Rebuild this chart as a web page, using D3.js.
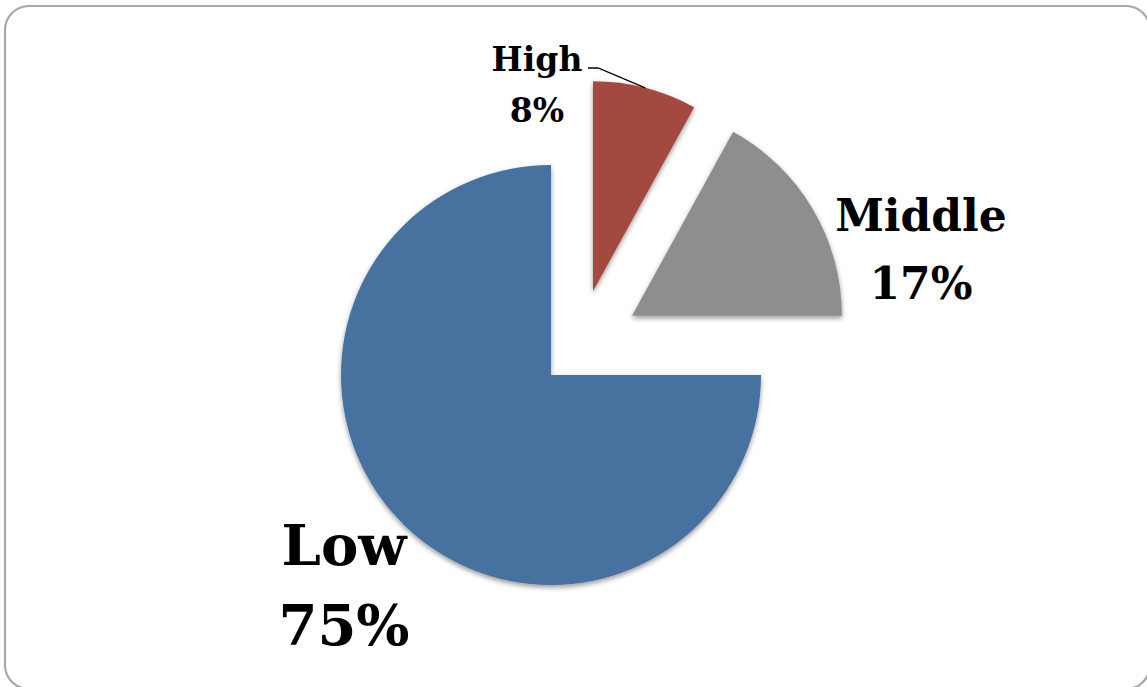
<!DOCTYPE html>
<html>
<head>
<meta charset="utf-8">
<script src="https://cdn.jsdelivr.net/npm/d3@7/dist/d3.min.js"></script>
<style>
  html, body { margin: 0; padding: 0; background: #ffffff; }
  svg { display: block; }
</style>
</head>
<body>
<svg id="chart" width="1147" height="687"></svg>
<script>
// Income groups and their shares (percent)
const categories = ["High", "Middle", "Low"];
const shares = [8, 17, 75];
const labelTexts = ["8%", "17%", "75%"];

// Styling per slice
const colors = ["#A34A40", "#8E8E8E", "#46719F"];
const explode = [58, 62, 39];         // pixels each slice is pulled out along its bisector
const fontSizes = [33, 44, 56];

const width = 1147, height = 687;
const cx = 578.6, cy = 347.4, radius = 210;

const svg = d3.select("#chart");

// Soft shadow under the slices
const defs = svg.append("defs");
const f = defs.append("filter").attr("id", "shadow")
  .attr("x", "-10%").attr("y", "-10%").attr("width", "120%").attr("height", "125%");
f.append("feDropShadow")
  .attr("dx", 0).attr("dy", 2.5).attr("stdDeviation", 2.5)
  .attr("flood-color", "#000").attr("flood-opacity", 0.4);

// Rounded frame
svg.append("rect")
  .attr("x", 5).attr("y", 6)
  .attr("width", 1145).attr("height", 683)
  .attr("rx", 24).attr("ry", 24)
  .attr("fill", "#ffffff")
  .attr("stroke", "#A8A8A8").attr("stroke-width", 2.2);

const data = categories.map((c, i) => ({
  name: c, value: shares[i], label: labelTexts[i],
  color: colors[i], explode: explode[i], fontSize: fontSizes[i]
}));

const pie = d3.pie().sort(null).value(d => d.value).startAngle(0).endAngle(2 * Math.PI);
const arcs = pie(data);
const arc = d3.arc().innerRadius(0).outerRadius(radius);
const rim = d3.arc().innerRadius(radius).outerRadius(radius);

const g = svg.append("g").attr("transform", `translate(${cx},${cy})`);

function offset(a) {
  const mid = (a.startAngle + a.endAngle) / 2;
  return [Math.sin(mid) * a.data.explode, -Math.cos(mid) * a.data.explode];
}

g.selectAll("path.slice")
  .data(arcs)
  .join("path")
  .attr("class", "slice")
  .attr("transform", a => `translate(${offset(a)})`)
  .attr("d", arc)
  .attr("fill", a => a.data.color)
  .attr("filter", "url(#shadow)");

// Label placement (absolute page coordinates for the text blocks)
const labelPos = {
  High:   { x: 537, y1: 71,  y2: 122 },
  Middle: { x: 921, y1: 231, y2: 299 },
  Low:    { x: 344, y1: 565, y2: 645 }
};

const labels = svg.append("g")
  .attr("font-family", "'DejaVu Serif', serif")
  .attr("font-weight", "bold")
  .attr("fill", "#000")
  .attr("text-anchor", "middle");

arcs.forEach(a => {
  const p = labelPos[a.data.name];
  const t = labels.append("text").attr("font-size", a.data.fontSize);
  t.append("tspan").attr("x", p.x).attr("y", p.y1).text(a.data.name);
  t.append("tspan").attr("x", p.x).attr("y", p.y2).text(a.data.label);
});

// Leader line from the High slice's outer rim to its label
const high = arcs[0];
const [ox, oy] = offset(high);
const [rx, ry] = rim.centroid(high);
const tip = [cx + ox + rx, cy + oy + ry];
svg.append("polyline")
  .attr("points", [tip, [598, 68], [588, 68]].map(p => p.join(",")).join(" "))
  .attr("fill", "none")
  .attr("stroke", "#000")
  .attr("stroke-width", 1.3);
</script>
</body>
</html>
